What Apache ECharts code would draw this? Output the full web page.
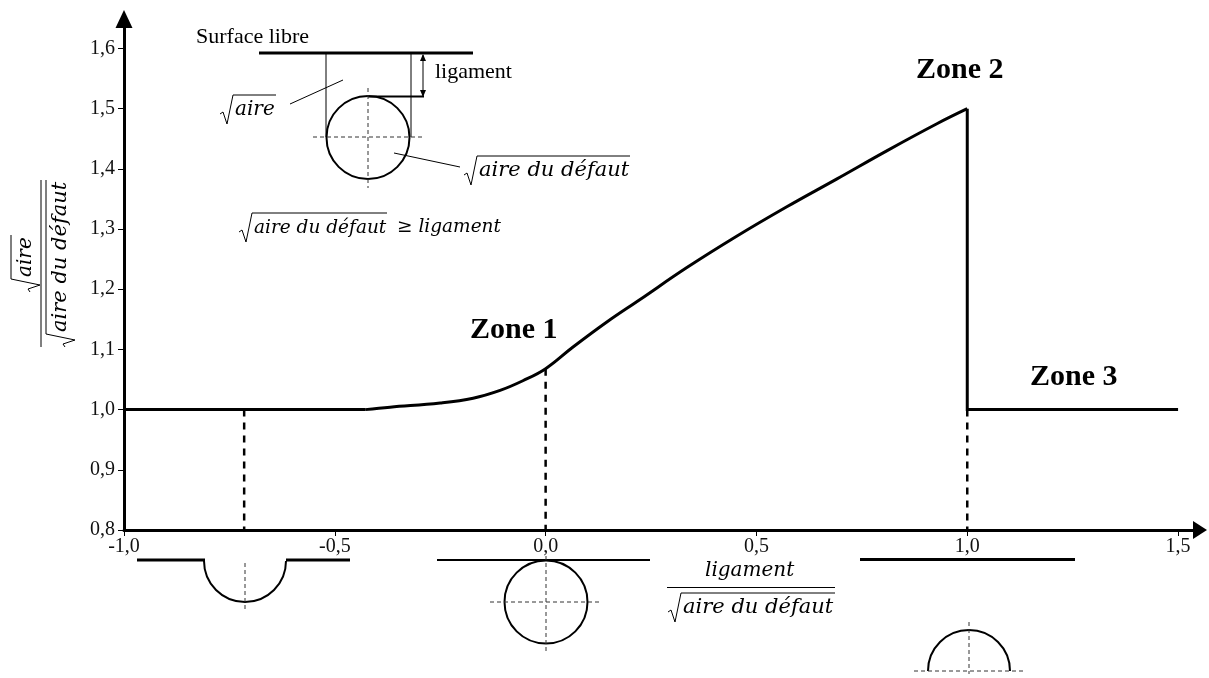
<!DOCTYPE html>
<html>
<head>
<meta charset="utf-8">
<title>Zones</title>
<script src="https://cdn.jsdelivr.net/npm/echarts@6/dist/echarts.min.js"></script>
<style>
  html, body { margin: 0; background: #fff; }
  #chart { width: 1209px; height: 678px; }
</style>
</head>
<body>
<div id="chart"></div>
<script>
const xTicks = [-1, -0.5, 0, 0.5, 1, 1.5]
const yTicks = [0.8, 0.9, 1, 1.1, 1.2, 1.3, 1.4, 1.5, 1.6]
const curveX = [-0.428, -0.369, -0.25, -0.172, -0.108, -0.054, 0, 0.065, 0.146, 0.224, 0.335, 0.453, 0.572, 0.69, 0.809, 0.928, 1]
const curveY = [1, 1.004, 1.011, 1.019, 1.032, 1.048, 1.068, 1.104, 1.146, 1.183, 1.236, 1.288, 1.337, 1.383, 1.43, 1.475, 1.5]
const plateauX = [-1, -0.428]
const plateauY = [1, 1]
const tailX = [1, 1, 1.5]
const tailY = [1.5, 1, 1]
const dropX = [-0.715, 0, 1]
const dropTop = [1, 1.068, 1]
const axisFloor = 0.8

const serif = '"Liberation Serif"'
const mathFont = '"DejaVu Serif"'

const chart = echarts.init(document.getElementById('chart'))

const ln = (x1, y1, x2, y2, lw, dash) => ({
  type: 'line',
  shape: { x1, y1, x2, y2 },
  style: { stroke: dash ? '#333' : '#000', lineWidth: lw || 1, lineDash: dash || null }
})

const txt = (text, x, y, size, opt) => ({
  type: 'text',
  x,
  y,
  style: Object.assign({
    text,
    fill: '#000',
    fontFamily: serif,
    fontSize: size,
    textAlign: 'left',
    textVerticalAlign: 'middle'
  }, opt || {})
})

const math = (text, x, y, size) => txt(text, x, y, size, { fontFamily: mathFont, fontStyle: 'italic' })

// radical sign plus the text under it, top is the height of the overline
const sqrtText = (text, x, top, xEnd, size) => [
  {
    type: 'polyline',
    shape: { points: [[x, top + 19], [x + 3, top + 17], [x + 7, top + 29], [x + 13, top], [xEnd, top]] },
    style: { stroke: '#000', lineWidth: 1, fill: null }
  },
  math(text, x + 15, top + 15, size)
]

const circle = (cx, cy, r) => ({
  type: 'circle',
  shape: { cx, cy, r },
  style: { stroke: '#000', lineWidth: 2, fill: null }
})

const halfArc = (cx, cy, r, start, end) => ({
  type: 'arc',
  shape: { cx, cy, r, startAngle: start, endAngle: end, clockwise: true },
  style: { stroke: '#000', lineWidth: 2, fill: null }
})

const dash = [4, 3]

const graphics = [
  // schema du haut
  txt('Surface libre', 196, 37, 22),
  ln(259, 53, 473, 53, 3),
  ln(326, 53, 326, 137),
  ln(411, 53, 411, 137),
  ln(423, 55, 423, 96),
  { type: 'polygon', shape: { points: [[423, 54], [420, 61], [426, 61]] }, style: { fill: '#000' } },
  { type: 'polygon', shape: { points: [[423, 97], [420, 90], [426, 90]] }, style: { fill: '#000' } },
  ln(368, 96.5, 424, 96.5, 2),
  circle(368, 137.5, 41.5),
  ln(313, 137, 423, 137, 1, dash),
  ln(368, 88, 368, 188, 1, dash),
  txt('ligament', 435, 72, 22),
  ln(290, 104, 343, 80),
  ln(394, 153, 460, 167),
  ...sqrtText('aire', 220, 95, 276, 20),
  ...sqrtText('aire du défaut', 464, 156, 630, 21),
  ...sqrtText('aire du défaut', 239, 213, 387, 18.5),
  math('≥ ligament', 397, 227, 18.5),
  // schemas du bas
  ln(137, 560, 205, 560, 3),
  ln(286, 560, 350, 560, 3),
  halfArc(245, 561, 41, 0, Math.PI),
  ln(245, 563, 245, 612, 1, dash),
  ln(437, 560, 650, 560, 2),
  circle(546, 602, 41.5),
  ln(490, 602, 600, 602, 1, dash),
  ln(546, 556, 546, 652, 1, dash),
  ln(860, 559.5, 1075, 559.5, 3),
  halfArc(969, 671, 41, Math.PI, Math.PI * 2),
  ln(914, 671, 1024, 671, 1, dash),
  ln(969, 622, 969, 674, 1, dash),
  // axe x
  math('ligament', 705, 571, 20),
  ln(667, 587.5, 835, 587.5),
  ...sqrtText('aire du défaut', 668, 593, 835, 21),
  // zones
  txt('Zone 1', 470, 330, 30, { fontWeight: 'bold' }),
  txt('Zone 2', 916, 70, 30, { fontWeight: 'bold' }),
  txt('Zone 3', 1030, 377, 30, { fontWeight: 'bold' }),
  // axe y, tourne
  {
    type: 'group',
    x: 41,
    y: 347,
    rotation: Math.PI / 2,
    children: [
      ln(0, 0, 167, 0),
      ...sqrtText('aire', 55, -30, 112, 20),
      ...sqrtText('aire du défaut', 0, 5, 167, 21)
    ]
  }
]

const pairs = (xs, ys) => xs.map((x, i) => [x, ys[i]])
const thick = { color: '#000', width: 3, join: 'miter' }

const series = [
  { type: 'line', data: pairs(plateauX, plateauY), symbol: 'none', lineStyle: thick, z: 3 },
  { type: 'line', data: pairs(curveX, curveY), symbol: 'none', smooth: 0.4, lineStyle: thick, z: 3 },
  { type: 'line', data: pairs(tailX, tailY), symbol: 'none', lineStyle: thick, z: 3 }
]
dropX.forEach((x, i) => {
  series.push({
    type: 'line',
    data: [[x, dropTop[i]], [x, axisFloor]],
    symbol: 'none',
    lineStyle: { color: '#000', width: 2.5, type: [7, 6] },
    z: 2
  })
})

const fmt = v => v.toFixed(1).replace('.', ',')

chart.setOption({
  backgroundColor: '#fff',
  animation: false,
  grid: { left: 124, top: 19, width: 1076, height: 511 },
  xAxis: {
    type: 'value',
    min: -1,
    max: 1.552,
    splitLine: { show: false },
    axisLine: { onZero: false, lineStyle: { color: '#000', width: 3 }, symbol: ['none', 'triangle'], symbolSize: [18, 14] },
    axisTick: { customValues: xTicks, length: 6, lineStyle: { color: '#000', width: 1 } },
    axisLabel: { customValues: xTicks, formatter: fmt, margin: 7, color: '#111', fontFamily: serif, fontSize: 20 }
  },
  yAxis: {
    type: 'value',
    min: 0.8,
    max: 1.649,
    splitLine: { show: false },
    axisLine: { onZero: false, lineStyle: { color: '#000', width: 3 }, symbol: ['none', 'triangle'], symbolSize: [17, 18] },
    axisTick: { customValues: yTicks, length: 6, lineStyle: { color: '#000', width: 1 } },
    axisLabel: { customValues: yTicks, formatter: fmt, margin: 9, padding: [3, 0, 0, 0], color: '#111', fontFamily: serif, fontSize: 20 }
  },
  graphic: graphics,
  series
})
</script>
</body>
</html>
